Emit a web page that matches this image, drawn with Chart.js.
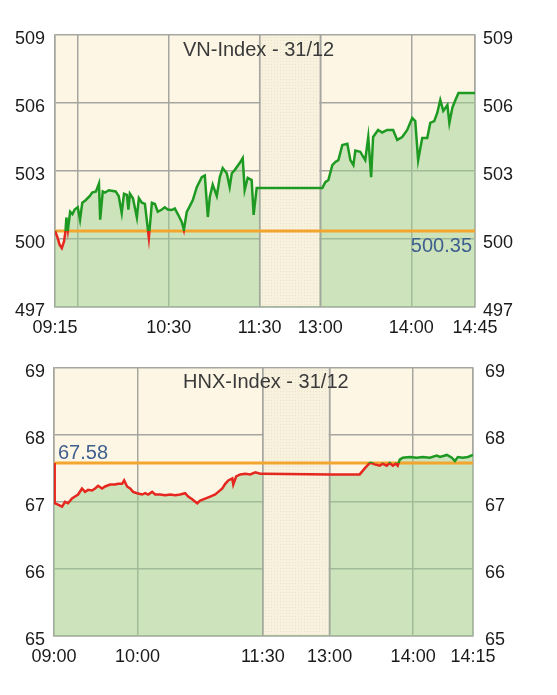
<!DOCTYPE html>
<html>
<head>
<meta charset="utf-8">
<script src="https://cdn.jsdelivr.net/npm/chart.js@4.4.0/dist/chart.umd.min.js"></script>
<style>
    html, body { margin: 0; padding: 0; background: #fff; }
    .box { position: absolute; left: 0; width: 557px; }
    #vnBox { top: 0; height: 345px; }
    #hnxBox { top: 345px; height: 350px; }
</style>
</head>
<body>
<div class="box" id="vnBox"><canvas id="vnChart" width="557" height="345"></canvas></div>
<div class="box" id="hnxBox"><canvas id="hnxChart" width="557" height="350"></canvas></div>
<script>
// VN-Index: x = phút giao dịch (giờ nghỉ trưa 11:30-13:00 bị nén lại)
const vnTimes = [
    0, 1.5, 3, 4.5, 6, 7, 7.5, 8.5, 10, 11.5, 13, 15, 16.5, 18, 20, 23, 24.5, 27, 29, 29.8,
    31.5, 33, 35.5, 40, 42, 44, 45.5, 47.4, 48.4, 49.4, 51.4, 54, 55.3, 57.3, 59.3, 61.9, 63.9,
    65.9, 67.8, 70.5, 72.4, 74.4, 77, 79, 81, 83.6, 85, 86.9, 88.9, 90.9, 93.5, 96.8, 98.8,
    100.8, 102.1, 104, 106.7, 108.7, 110.6, 113.3, 115.2, 116.6, 118.5, 121.8, 123.8, 125.1,
    127.1, 129.7, 131, 133, 135, 175, 176.3, 178.3, 180.3, 182.9, 184.9, 186.9, 189.5, 192.8,
    194.8, 196.8, 198.1, 201.3, 204.6, 206.6, 208.5, 209.8, 213.1, 215.8, 219.1, 223, 225.7,
    229, 232.3, 235.6, 237.6, 239.5, 242.2, 245.5, 247.5, 250.1, 252.1, 254.1, 256.1, 258.8,
    260.1, 262.1, 264.1, 266.1, 277,
];
const vnValues = [
    500.35, 500.1, 499.75, 499.6, 499.9, 500.4, 500.95, 500.4, 501.2, 501.1, 501.3, 501.4, 500.85, 501.6, 501.7, 501.9, 502.05, 502.1, 502.45, 500.85,
    502.1, 502.05, 502.15, 502.1, 501.9, 501.15, 502.0, 501.95, 501.3, 502.0, 501.8, 500.95, 501.8, 501.6, 501.55, 500.05, 501.6,
    501.55, 501.2, 501.3, 501.4, 501.3, 501.28, 501.35, 501.1, 500.75, 500.4, 501.2, 501.45, 501.72, 502.29, 502.73, 502.8,
    500.97, 501.85, 502.4, 501.9, 502.73, 503.13, 502.9, 502.29, 502.9, 503.04, 503.35, 503.57, 502.16,
    502.7, 502.6, 501.06, 502.25, 502.25, 502.25, 502.25, 502.51, 502.6, 503.26, 503.4, 503.48, 504.15, 504.2,
    503.48, 503.26, 503.9, 503.85, 503.48, 504.5, 502.73, 504.5, 504.81, 504.7, 504.81, 504.81, 504.37,
    504.5, 504.81, 505.34, 505.2, 503.48, 504.46, 504.46, 505.12, 505.2, 505.56, 506.13, 505.65, 505.91,
    505.12, 505.8, 506.13, 506.44, 506.44,
];
const vnRef = 500.35;
const vnYTicks = [497, 500, 503, 506, 509];
const vnXTicks = [0, 15, 75, 135, 175, 235, 277];
const vnXLabels = ["09:15", "", "10:30", "11:30", "13:00", "14:00", "14:45"];
const vnLunch = [135, 175];

// HNX-Index
const hnxTimes = [
    0, 0.5, 2.9, 5.8, 7.9, 10.1, 12.9, 15.1, 17.3, 20.1, 22.3, 24.5, 27.3, 29.5, 31.7, 34.5, 36.7,
    40.3, 43.9, 46, 48.9, 50.4, 52.5, 54.7, 56.8, 59.7, 63.3, 65.5, 67.6, 70.5, 72.7, 76.3, 79.9,
    83.5, 87.1, 90.6, 94.2, 96.4, 99.3, 102.9, 105, 108.6, 112.2, 115.8, 118, 120.9, 123, 125.2,
    128.1, 128.8, 130.9, 133.8, 137.4, 141, 144.6, 148.2, 150, 198, 219.6, 223.2, 226.8, 228.2,
    230.4, 234, 236.1, 239, 241.2, 243.4, 245.5, 246.9, 248.4, 250.5, 255.6, 260.6, 264.9, 269.9,
    275, 277.2, 282.3, 285.8, 288, 290.1, 293.7, 297.3, 301,
];
const hnxValues = [
    67.58, 66.98, 66.96, 66.93, 67.0, 66.98, 67.05, 67.08, 67.11, 67.2, 67.15, 67.18, 67.17, 67.2, 67.24, 67.2, 67.23,
    67.26, 67.26, 67.27, 67.27, 67.32, 67.23, 67.2, 67.15, 67.13, 67.11, 67.13, 67.11, 67.15, 67.11, 67.11, 67.1,
    67.11, 67.1, 67.11, 67.13, 67.08, 67.04, 66.98, 67.02, 67.05, 67.08, 67.11, 67.15, 67.2, 67.27, 67.32,
    67.35, 67.26, 67.38, 67.41, 67.42, 67.41, 67.44, 67.42, 67.42, 67.41, 67.41, 67.5, 67.58, 67.58,
    67.56, 67.54, 67.57, 67.54, 67.58, 67.54, 67.57, 67.54, 67.63, 67.66, 67.67, 67.66, 67.67, 67.66,
    67.69, 67.67, 67.7, 67.66, 67.61, 67.67, 67.66, 67.67, 67.7,
];
const hnxRef = 67.58;
const hnxYTicks = [65, 66, 67, 68, 69];
const hnxXTicks = [0, 60, 150, 198, 258, 301];
const hnxXLabels = ["09:00", "10:00", "11:30", "13:00", "14:00", "14:15"];
const hnxLunch = [150, 198];

const COLORS = {
    bg: "#fdf6e5",
    fill: "rgba(155, 208, 145, 0.5)",
    band: "#f7f1de",
    bandDot: "#ebe2ca",
    grid: "#a6a6a0",
    ref: "#f2a630",
    up: "#1e9a22",
    down: "#e5271f",
    refText: "#3f5f8f",
    text: "#1a1a1a",
    title: "#3a3a3a",
};
const FONT = "'Liberation Sans', Arial, sans-serif";

function makeBandPattern(ctx) {
    const c = document.createElement("canvas");
    c.width = 3;
    c.height = 3;
    const p = c.getContext("2d");
    p.fillStyle = COLORS.band;
    p.fillRect(0, 0, 3, 3);
    p.fillStyle = COLORS.bandDot;
    p.fillRect(1, 1, 1, 1);
    return ctx.createPattern(c, "repeat");
}

const sessionPlugin = {
    id: "session",
    beforeDraw(chart) {
        const a = chart.chartArea;
        const ctx = chart.ctx;
        ctx.save();
        ctx.fillStyle = COLORS.bg;
        ctx.fillRect(a.left, a.top, a.right - a.left, a.bottom - a.top);
        ctx.restore();
    },
    beforeDatasetsDraw(chart, args, opts) {
        const a = chart.chartArea;
        const ctx = chart.ctx;
        const x0 = chart.scales.x.getPixelForValue(opts.lunch[0]);
        const x1 = chart.scales.x.getPixelForValue(opts.lunch[1]);
        ctx.save();
        ctx.fillStyle = makeBandPattern(ctx);
        ctx.fillRect(x0 + 1, a.top + 1, x1 - x0 - 2, a.bottom - a.top - 2);
        ctx.strokeStyle = COLORS.grid;
        ctx.lineWidth = 1.5;
        ctx.beginPath();
        ctx.moveTo(x0, a.top);
        ctx.lineTo(x0, a.bottom);
        ctx.moveTo(x1, a.top);
        ctx.lineTo(x1, a.bottom);
        ctx.stroke();
        ctx.restore();
    },
    afterDatasetsDraw(chart, args, opts) {
        const a = chart.chartArea;
        const ctx = chart.ctx;
        const yRef = chart.scales.y.getPixelForValue(opts.ref);
        ctx.save();
        ctx.textBaseline = "middle";
        ctx.fillStyle = COLORS.title;
        ctx.font = "20px " + FONT;
        ctx.textAlign = "left";
        ctx.fillText(opts.title, opts.titleX, a.top + 15);

        ctx.fillStyle = COLORS.refText;
        const txt = opts.ref.toFixed(2);
        if (opts.refSide === "right") {
            ctx.textAlign = "right";
            ctx.fillText(txt, a.right - 3, yRef + 15);
        } else {
            ctx.textAlign = "left";
            ctx.fillText(txt, a.left + 4, yRef - 10);
        }
        ctx.restore();
    },
};

function lineColor(ref) {
    return function (context) {
        const chart = context.chart;
        const area = chart.chartArea;
        if (!area) return COLORS.up;
        const yRef = chart.scales.y.getPixelForValue(ref);
        let stop = (yRef - area.top) / (area.bottom - area.top);
        stop = Math.min(Math.max(stop, 0), 1);
        const g = chart.ctx.createLinearGradient(0, area.top, 0, area.bottom);
        g.addColorStop(0, COLORS.up);
        g.addColorStop(stop, COLORS.up);
        g.addColorStop(stop, COLORS.down);
        g.addColorStop(1, COLORS.down);
        return g;
    };
}

function yAxis(s, side) {
    const left = side === "left";
    return {
        type: "linear",
        position: side,
        min: s.yTicks[0],
        max: s.yTicks[s.yTicks.length - 1],
        afterBuildTicks: (sc) => {
            sc.ticks = s.yTicks.map((v) => ({ value: v }));
        },
        afterFit: (sc) => {
            sc.width = left ? s.leftWidth : s.rightWidth;
        },
        grid: { display: left, color: COLORS.grid, lineWidth: 1.5, drawTicks: false },
        border: { display: true, color: COLORS.grid, width: 1.5 },
        ticks: {
            padding: left ? s.leftPad : s.rightPad,
            labelOffset: 4,
            color: COLORS.text,
            font: { family: FONT, size: 18 },
        },
    };
}

function buildIndexChart(canvasId, s) {
    const el = document.getElementById(canvasId);
    if (!el) return;

    const points = s.times.map((t, i) => ({ x: t, y: s.values[i] }));
    const xMin = s.xTicks[0];
    const xMax = s.xTicks[s.xTicks.length - 1];

    new Chart(el, {
        type: "line",
        data: {
            datasets: [
                {
                    data: points,
                    borderColor: lineColor(s.ref),
                    borderWidth: 2.5,
                    pointRadius: 0,
                    tension: 0,
                    fill: "start",
                    backgroundColor: COLORS.fill,
                },
                {
                    data: [
                        { x: xMin, y: s.ref },
                        { x: xMax, y: s.ref },
                    ],
                    borderColor: COLORS.ref,
                    borderWidth: 3,
                    pointRadius: 0,
                    fill: false,
                },
            ],
        },
        options: {
            responsive: false,
            animation: false,
            devicePixelRatio: 1,
            layout: { padding: { top: s.padTop, bottom: s.padBottom, left: 0, right: 0 } },
            plugins: {
                legend: { display: false },
                tooltip: { enabled: false },
                filler: { drawTime: "beforeDatasetsDraw" },
                session: {
                    lunch: s.lunch,
                    ref: s.ref,
                    title: s.title,
                    titleX: 183,
                    refSide: s.refSide,
                },
            },
            scales: {
                x: {
                    type: "linear",
                    min: xMin,
                    max: xMax,
                    afterBuildTicks: (sc) => {
                        sc.ticks = s.xTicks.map((v) => ({ value: v }));
                    },
                    afterFit: (sc) => {
                        sc.height = 38;
                    },
                    grid: { color: COLORS.grid, lineWidth: 1.5, drawTicks: false },
                    border: { color: COLORS.grid, width: 1.5 },
                    ticks: {
                        padding: 10,
                        autoSkip: false,
                        maxRotation: 0,
                        color: COLORS.text,
                        font: { family: FONT, size: 18 },
                        callback: (value, index) => s.xLabels[index],
                    },
                },
                y: yAxis(s, "left"),
                y2: yAxis(s, "right"),
            },
        },
        plugins: [sessionPlugin],
    });
}

document.addEventListener("DOMContentLoaded", function () {
    if (typeof Chart === "undefined") {
        console.error("Chart.js is not loaded");
        return;
    }

    buildIndexChart("vnChart", {
        times: vnTimes,
        values: vnValues,
        ref: vnRef,
        yTicks: vnYTicks,
        xTicks: vnXTicks,
        xLabels: vnXLabels,
        lunch: vnLunch,
        title: "VN-Index - 31/12",
        refSide: "right",
        padTop: 35,
        padBottom: 0,
        leftWidth: 55,
        rightWidth: 82,
        leftPad: 10,
        rightPad: 8,
    });

    buildIndexChart("hnxChart", {
        times: hnxTimes,
        values: hnxValues,
        ref: hnxRef,
        yTicks: hnxYTicks,
        xTicks: hnxXTicks,
        xLabels: hnxXLabels,
        lunch: hnxLunch,
        title: "HNX-Index - 31/12",
        refSide: "left",
        padTop: 20,
        padBottom: 21,
        leftWidth: 54,
        rightWidth: 84,
        leftPad: 9,
        rightPad: 12,
    });
});
</script>
</body>
</html>
